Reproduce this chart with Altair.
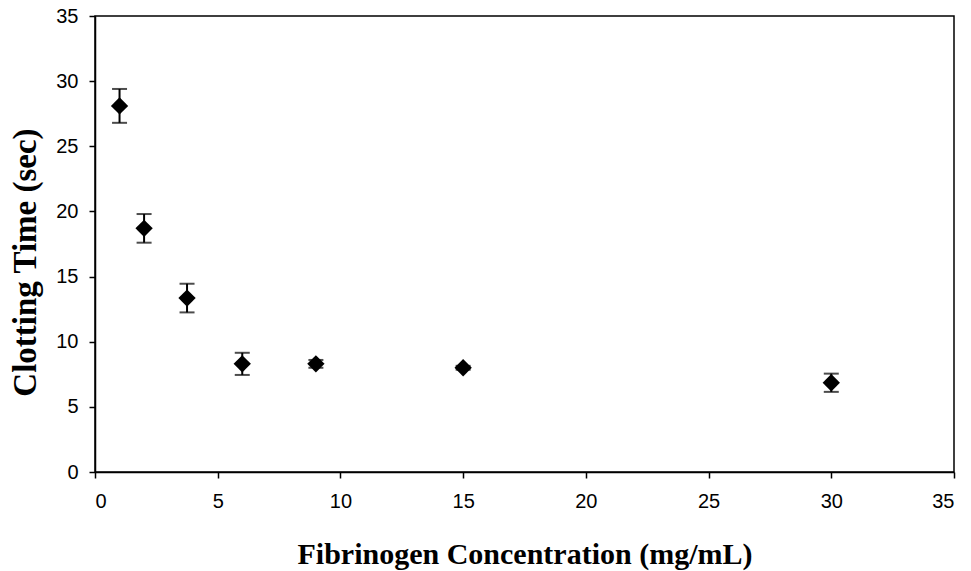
import altair as alt
import pandas as pd

conc = [1.0, 2.0, 3.75, 6.0, 9.0, 15.0, 30.0]
clot_time = [28.1, 18.7, 13.35, 8.3, 8.3, 8.0, 6.85]
err = [1.3, 1.1, 1.1, 0.85, 0.3, 0.15, 0.7]

df = pd.DataFrame({"x": conc, "y": clot_time, "e": err})
df["lo"] = df["y"] - df["e"]
df["hi"] = df["y"] + df["e"]

xs = alt.Scale(domain=[0, 35], nice=False, zero=True)
ys = alt.Scale(domain=[0, 35], nice=False, zero=True)

xax = alt.Axis(title="Fibrinogen Concentration (mg/mL)", values=list(range(0, 36, 5)),
               grid=False, tickSize=6, labelPadding=13, titlePadding=28, titleFontSize=30)
yax = alt.Axis(title="Clotting Time (sec)", values=list(range(0, 36, 5)),
               grid=False, tickSize=6, labelPadding=11, titlePadding=13, titleFontSize=33,
               titleY=246)

base = alt.Chart(df)

rules = base.mark_rule(color="black", strokeWidth=2).encode(
    x=alt.X("x:Q", scale=xs, axis=xax),
    y=alt.Y("lo:Q", scale=ys, axis=yax),
    y2="hi:Q",
)
caps_hi = base.mark_tick(color="black", orient="horizontal", size=15, thickness=2).encode(
    x=alt.X("x:Q", scale=xs), y=alt.Y("hi:Q", scale=ys)
)
caps_lo = base.mark_tick(color="black", orient="horizontal", size=15, thickness=2).encode(
    x=alt.X("x:Q", scale=xs), y=alt.Y("lo:Q", scale=ys)
)
pts = base.mark_point(shape="diamond", filled=True, color="black", size=300, opacity=1).encode(
    x=alt.X("x:Q", scale=xs), y=alt.Y("y:Q", scale=ys)
)

chart = alt.layer(rules, caps_hi, caps_lo, pts).properties(
    width=859, height=456,
    autosize=alt.AutoSizeParams(type="none"),
    padding={"left": 95, "top": 16, "right": 17, "bottom": 99},
    background="white",
).configure_view(
    stroke="black", strokeWidth=1.5
).configure_axis(
    domainColor="black", domainWidth=1.5, tickColor="black", tickWidth=1.5,
    labelFont="Liberation Sans", labelFontSize=20, labelColor="black",
    titleFont="Liberation Serif", titleFontWeight="bold", titleColor="black",
)

chart.save("out.html", embed_options={"renderer": "svg", "actions": False})
